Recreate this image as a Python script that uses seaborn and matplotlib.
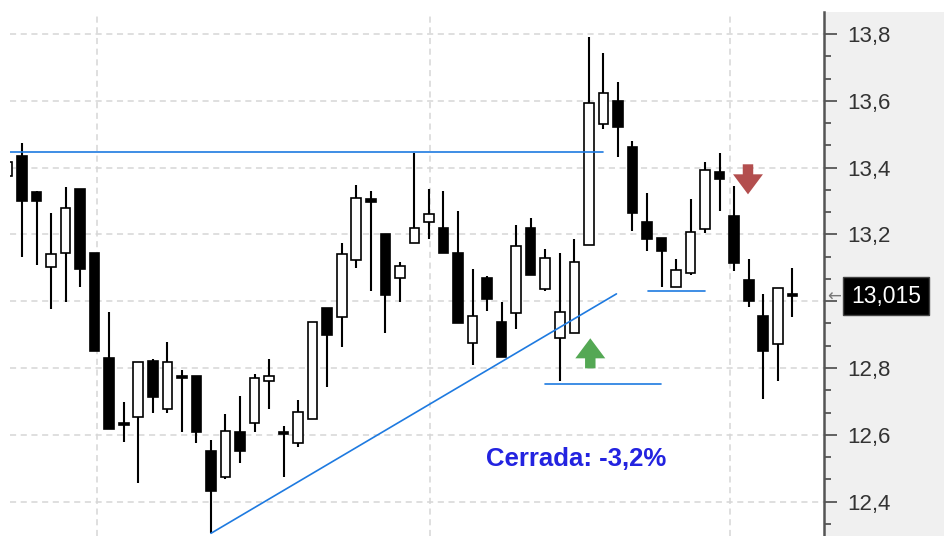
import matplotlib
matplotlib.use("Agg")
import matplotlib.pyplot as plt
import matplotlib.patches as mpatches
import matplotlib.ticker as mticker
import numpy as np
import pandas as pd
import seaborn as sns

# OHLC (one candle per session, oldest first)
opens = [13.375, 13.436, 13.328, 13.103, 13.145, 13.335, 13.143, 12.831, 12.634, 12.654,
         12.821, 12.677, 12.775, 12.776, 12.552, 12.473, 12.607, 12.636, 12.762, 12.607,
         12.576, 12.648, 12.981, 12.954, 13.123, 13.304, 13.201, 13.069, 13.175, 13.236,
         13.220, 13.143, 12.876, 13.070, 12.939, 12.966, 13.220, 13.037, 12.889, 12.906,
         13.168, 13.530, 13.599, 13.461, 13.238, 13.190, 13.043, 13.084, 13.215, 13.388,
         13.256, 13.063, 12.957, 12.871, 13.019]
highs = [13.417, 13.473, 13.330, 13.263, 13.341, 13.335, 13.143, 12.969, 12.699, 12.819,
         12.827, 12.879, 12.794, 12.776, 12.584, 12.662, 12.716, 12.782, 12.826, 12.627,
         12.704, 12.937, 12.981, 13.173, 13.348, 13.330, 13.201, 13.118, 13.445, 13.335,
         13.330, 13.270, 13.096, 13.076, 12.999, 13.228, 13.250, 13.156, 13.143, 13.186,
         13.792, 13.744, 13.655, 13.480, 13.323, 13.190, 13.125, 13.305, 13.418, 13.443,
         13.346, 13.125, 13.022, 13.040, 13.100]
lows = [13.375, 13.133, 13.108, 12.977, 12.999, 13.043, 12.851, 12.616, 12.579, 12.455,
        12.664, 12.664, 12.609, 12.576, 12.305, 12.467, 12.515, 12.609, 12.676, 12.473,
        12.564, 12.648, 12.742, 12.862, 13.099, 13.031, 12.904, 12.999, 13.175, 13.186,
        13.145, 12.936, 12.809, 12.971, 12.832, 12.916, 13.078, 13.030, 12.761, 12.906,
        13.168, 13.515, 13.433, 13.210, 13.151, 13.043, 13.043, 13.078, 13.203, 13.270,
        13.090, 12.984, 12.706, 12.762, 12.952]
closes = [13.417, 13.301, 13.301, 13.141, 13.280, 13.096, 12.851, 12.616, 12.628, 12.819,
          12.714, 12.817, 12.769, 12.609, 12.432, 12.612, 12.552, 12.769, 12.776, 12.601,
          12.667, 12.937, 12.899, 13.141, 13.308, 13.298, 13.019, 13.105, 13.220, 13.261,
          13.145, 12.936, 12.956, 13.007, 12.832, 13.165, 13.078, 13.130, 12.969, 13.118,
          13.593, 13.622, 13.522, 13.265, 13.186, 13.150, 13.093, 13.208, 13.393, 13.366,
          13.115, 13.001, 12.851, 13.040, 13.015]

last_price = 13.015
price_ticks = [12.4, 12.6, 12.8, 13.0, 13.2, 13.4, 13.6, 13.8]
hidden_tick = 13.0  # its label sits under the last-price box
session_grid = [6.18, 29.07, 49.71]

# drawn annotations (x in session index, y in price)
resistance_x = [0.17, 40.96]
resistance_y = [13.446, 13.446]
trend_x = [14.0, 41.9]
trend_y = [12.305, 13.022]
support1_x = [37.0, 44.95]
support1_y = [12.752, 12.752]
support2_x = [44.06, 48.0]
support2_y = [13.031, 13.031]
buy_arrow = (40.1, 12.889)
sell_arrow = (50.95, 13.320)
note_text = "Cerrada: -3,2%"
note_pos = (39.1, 12.527)

df = pd.DataFrame({"open": opens, "high": highs, "low": lows, "close": closes})
df["x"] = np.arange(len(df))
df["up"] = df["close"] > df["open"]

sns.set_theme(style="white")
plt.rcParams["font.family"] = ["Liberation Sans", "DejaVu Sans"]

fig = plt.figure(figsize=(9.45, 5.36), dpi=100)
fig.patch.set_facecolor("white")
W, H = 945, 536
ax = fig.add_axes([10 / W, 0, 814 / W, 524 / H])
ax.set_facecolor("white")

# grey price panel on the right, behind the axes
fig.patches.append(mpatches.Rectangle((824 / W, 0), 121 / W, 524 / H,
                                      transform=fig.transFigure, facecolor="#f0f0f0",
                                      edgecolor="none", zorder=-1))

# wicks
ax.vlines(df["x"], df["low"], df["high"], color="black", linewidth=1.5, zorder=3)

# bodies
body_bottom = df[["open", "close"]].min(axis=1)
body_height = (df["close"] - df["open"]).abs().clip(lower=0.008)
colors = np.where(df["up"], "white", "black")
ax.bar(df["x"], body_height, bottom=body_bottom, width=0.66, color=colors,
       edgecolor="black", linewidth=1.2, zorder=4)

# blue trader lines
blue = "#1e7ae0"
for xs, ys in [(resistance_x, resistance_y), (trend_x, trend_y),
               (support1_x, support1_y), (support2_x, support2_y)]:
    sns.lineplot(x=xs, y=ys, ax=ax, color=blue, linewidth=1.2, zorder=5)

# arrows
def arrow(cx, tip, direction, color):
    hw, sw = 1.03, 0.36
    head, length = 0.060, 0.090
    base = tip - direction * head
    end = tip - direction * length
    xs = [cx, cx + hw, cx + sw, cx + sw, cx - sw, cx - sw, cx - hw]
    ys = [tip, base, base, end, end, base, base]
    ax.fill(xs, ys, color=color, zorder=6, linewidth=0)

arrow(buy_arrow[0], buy_arrow[1], 1, "#54a854")
arrow(sell_arrow[0], sell_arrow[1], -1, "#b34e4e")

ax.text(note_pos[0], note_pos[1], note_text, color="#2323e0", fontsize=18.5,
        fontweight="bold", ha="center", va="center", zorder=6)

# axes, grid and ticks
def price_label(v, pos):
    if abs(v - hidden_tick) < 1e-6:
        return ""
    return f"{v:.1f}".replace(".", ",")

ax.set_xlim(0.174, 56.18)
ax.set_ylim(12.297, 13.866)
ax.set_xticks(session_grid)
ax.set_xticklabels([])
ax.set_yticks(price_ticks)
ax.yaxis.set_minor_locator(mticker.AutoMinorLocator(3))
ax.yaxis.tick_right()
ax.yaxis.set_major_formatter(mticker.FuncFormatter(price_label))
ax.tick_params(axis="x", length=0)
ax.tick_params(axis="y", which="major", length=9.4, width=1.3, color="#555555",
               labelsize=16, labelcolor="#333333", pad=7, right=True)
ax.tick_params(axis="y", which="minor", length=5, width=1.3, color="#555555", right=True)
ax.grid(True, which="major", linestyle=(0, (4, 3)), color="#d6d6d6", linewidth=1.1)
for side in ["left", "top", "bottom"]:
    ax.spines[side].set_visible(False)
ax.spines["right"].set_color("#555555")
ax.spines["right"].set_linewidth(1.8)

# last price box
trans = matplotlib.transforms.blended_transform_factory(ax.transAxes, ax.transData)
ax.text(1 + 27 / 814, last_price, f"{last_price:.3f}".replace(".", ","), transform=trans,
        color="white", fontsize=16.5, ha="left", va="center", clip_on=False, zorder=10,
        bbox=dict(boxstyle="square,pad=0.33", facecolor="black", edgecolor="#444444"))
ax.text(1 + 3 / 814, last_price, "←", transform=trans, color="#777777", fontsize=12,
        ha="left", va="center", clip_on=False, family="DejaVu Sans")

fig.savefig("out.png", dpi=100)
